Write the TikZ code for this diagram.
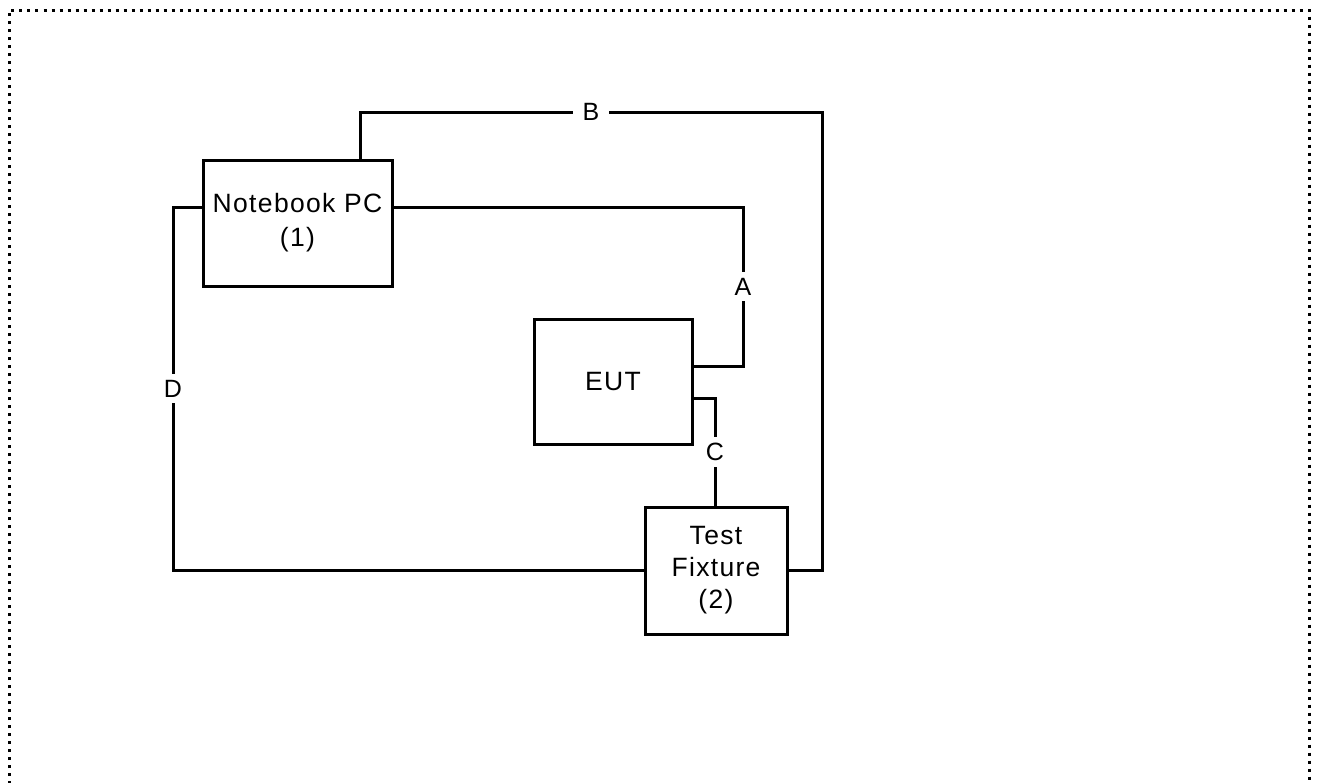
\documentclass[tikz,border=0pt]{standalone}
\usepackage{fontspec}
\setmainfont{Liberation Sans}
\newfontfamily\boxfont[LetterSpace=5]{Liberation Sans}
\begin{document}
\begin{tikzpicture}[x=1pt,y=-1pt,
  box/.style={draw, line width=3pt, align=center, inner sep=0pt, font=\boxfont\fontsize{26.5}{32}\selectfont},
  wire/.style={line width=3pt},
  lab/.style={fill=white, inner xsep=10pt, inner ysep=6pt, font=\fontsize{25}{28}\selectfont}]
\useasboundingbox (0,0) rectangle (1317,782);
% dotted frame
\draw[line width=3pt, dash pattern=on 3pt off 5pt] (9.5,800) -- (9.5,10) -- (1309,10) -- (1309,800);
% boxes
\node[box, minimum width=189pt, minimum height=126pt] (nb) at (297.5,223) {Notebook PC\\[2pt](1)};
\node[box, minimum width=158pt, minimum height=125pt] (eut) at (613,381.5) {EUT};
\node[box, minimum width=142pt, minimum height=127pt] (tf) at (716,570.5) {Test\\Fixture\\(2)};
% helper coordinates
\coordinate (b1) at (360,112);
\coordinate (b2) at (822,112);
\coordinate (a1) at (743,207);
\coordinate (a2) at (743,366);
\coordinate (c1) at (715,398);
\coordinate (d1) at (173,207);
% connectors
\draw[wire] (nb.north -| b1) -- (b1) -- node[lab]{B} (b2) |- (tf.east);
\draw[wire] (nb.east |- a1) -- (a1) -- node[lab]{A} (a2) -- (eut.east |- a2);
\draw[wire] (eut.east |- c1) -- (c1) -- node[lab]{C} (tf.north -| c1);
\draw[wire] (nb.west |- d1) -- (d1) -- node[lab]{D} (d1 |- tf.west) -- (tf.west);
\end{tikzpicture}
\end{document}
